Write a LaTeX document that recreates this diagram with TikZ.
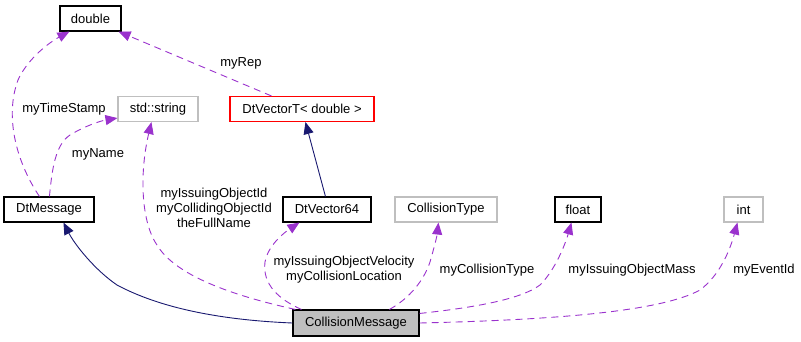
\documentclass[tikz,border=0pt]{standalone}
\usepackage{fontspec}
\setmainfont{Liberation Sans}
\usetikzlibrary{arrows.meta,calc}
\definecolor{edgepurple}{HTML}{9A32CD}
\definecolor{edgenavy}{HTML}{191970}
\definecolor{boxgrey}{HTML}{BFBFBF}
\begin{document}
\begin{tikzpicture}[x=1pt,y=-1pt,
  every node/.style={font=\fontsize{13}{15}\selectfont},
  cls/.style={draw=black,line width=1.1pt,minimum height=25pt,inner sep=0pt,anchor=center},
  extcls/.style={cls,draw=boxgrey},
  redcls/.style={cls,draw=red},
  maincls/.style={cls,fill=boxgrey},
  usage/.style={draw=edgepurple,line width=0.9pt,dash pattern=on 7pt off 5pt,
    -{Triangle[length=12pt,width=10pt,fill=edgepurple]}},
  inherit/.style={draw=edgenavy,line width=0.9pt,
    -{Triangle[length=12pt,width=10pt,fill=edgenavy]}},
  lbl/.style={align=center,inner sep=0pt}]
\useasboundingbox (0,0) rectangle (801,341);
\node[cls,minimum width=61pt] (double) at (90.5,18.5) {double};
\node[extcls,minimum width=80pt] (string) at (158,109) {std::string};
\node[redcls,minimum width=144pt] (vecT) at (302,109) {DtVectorT< double >};
\node[cls,minimum width=90pt] (dtmsg) at (49,209.5) {DtMessage};
\node[cls,minimum width=88pt] (vec64) at (327,209.5) {DtVector64};
\node[extcls,minimum width=102pt] (ctype) at (446,209.5) {CollisionType};
\node[cls,minimum width=46pt] (float) at (578,209.5) {float};
\node[extcls,minimum width=39pt] (int) at (743.5,209.5) {int};
\node[maincls,minimum width=126pt,minimum height=26pt] (cm) at (356,323) {CollisionMessage};
% inheritance
\draw[inherit] (cm.west) .. controls (220,320) and (160,308) .. (117,285)
  .. controls (95,270) and (75,245) .. ($(dtmsg.south west)+(60,0)$);
\draw[inherit] ($(vec64.north west)+(43,0)$) -- ($(vecT.south west)+(76,0)$);
% usage
\draw[usage] ($(vecT.north west)+(42,0)$) -- ($(double.south east)+(-3,0)$);
\node[lbl] (lrep) at (241,63) {myRep};
\draw[usage] ($(dtmsg.north west)+(36,0)$) .. controls (15,160) and (5,115) .. (18,80)
  .. controls (28,58) and (50,42) .. ($(double.south west)+(10,0)$);
\node[lbl] (lts) at (64,109) {myTimeStamp};
\draw[usage] ($(dtmsg.north west)+(46,0)$) .. controls (52,170) and (55,145) .. (70,135)
  .. controls (85,126) and (100,121) .. ($(string.south west)+(0,-4)$);
\node[lbl] (lname) at (98,154) {myName};
\draw[usage] ($(cm.north west)+(3,0)$) .. controls (230,295) and (175,275) .. (157,245)
  .. controls (140,220) and (140,170) .. ($(string.south west)+(34,0)$);
\node[lbl] (lid) at (214,208) {myIssuingObjectId\\myCollidingObjectId\\theFullName};
\draw[usage] ($(cm.north west)+(9,0)$) .. controls (280,300) and (262,285) .. (265,262)
  .. controls (268,245) and (285,232) .. ($(vec64.south west)+(17,0)$);
\node[lbl] (lvel) at (344,270) {myIssuingObjectVelocity\\myCollisionLocation};
\draw[usage] ($(cm.north west)+(97,0)$) .. controls (410,298) and (424,280) .. (430,262)
  .. controls (434,248) and (437,236) .. ($(ctype.south west)+(44,0)$);
\node[lbl] (lctype) at (487,270) {myCollisionType};
\draw[usage] ($(cm.north east)+(0,4)$) .. controls (470,308) and (520,300) .. (540,285)
  .. controls (555,270) and (565,245) .. ($(float.south west)+(17,0)$);
\node[lbl] (lmass) at (632,270) {myIssuingObjectMass};
\draw[usage] ($(cm.east)+(0,0)$) .. controls (550,320) and (660,312) .. (700,290)
  .. controls (720,275) and (730,250) .. ($(int.south west)+(14,0)$);
\node[lbl] (levent) at (764,270) {myEventId};
\end{tikzpicture}
\end{document}
